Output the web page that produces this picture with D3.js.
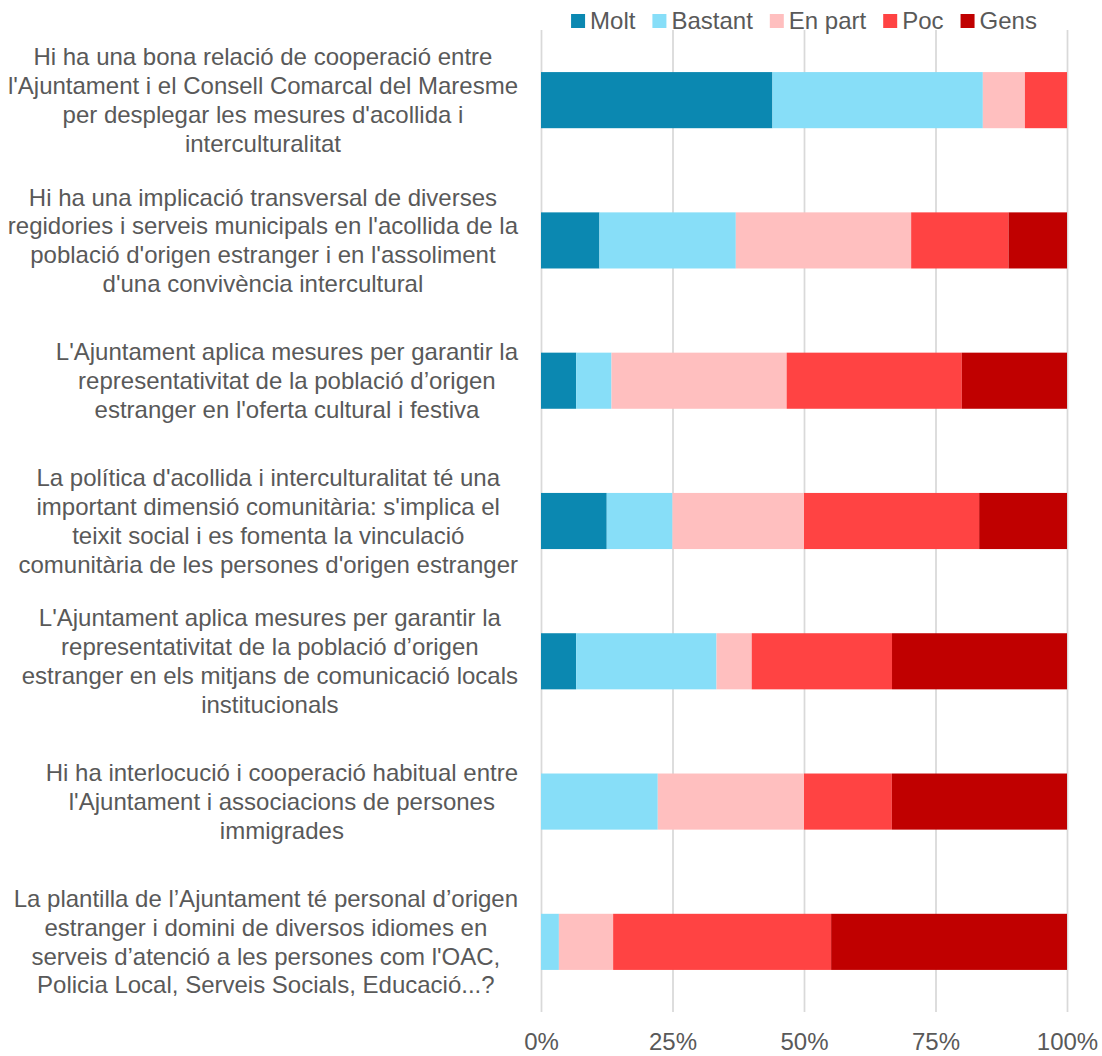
<!DOCTYPE html>
<html>
<head>
<meta charset="utf-8">
<script src="https://cdn.jsdelivr.net/npm/d3@7"></script>
<style>
  html, body { margin: 0; padding: 0; background: #fff; }
  svg { display: block; }
  text { font-family: "Liberation Sans", Arial, sans-serif; fill: #595959; }
</style>
</head>
<body>
<svg id="chart" width="1102" height="1056"></svg>
<script>
// ---- Data ----
const categories = [
  ["Hi ha una bona relació de cooperació entre", "l'Ajuntament i el Consell Comarcal del Maresme", "per desplegar les mesures d'acollida i", "interculturalitat"],
  ["Hi ha una implicació transversal de diverses", "regidories i serveis municipals en l'acollida de la", "població d'origen estranger i en l'assoliment", "d'una convivència intercultural"],
  ["L'Ajuntament aplica mesures per garantir la", "representativitat de la població d’origen", "estranger en l'oferta cultural i festiva"],
  ["La política d'acollida i interculturalitat té una", "important dimensió comunitària: s'implica el", "teixit social i es fomenta la vinculació", "comunitària de les persones d'origen estranger"],
  ["L'Ajuntament aplica mesures per garantir la", "representativitat de la població d’origen", "estranger en els mitjans de comunicació locals", "institucionals"],
  ["Hi ha interlocució i cooperació habitual entre", "l'Ajuntament i associacions de persones", "immigrades"],
  ["La plantilla de l’Ajuntament té personal d’origen", "estranger i domini de diversos idiomes en", "serveis d’atenció a les persones com l'OAC,", "Policia Local, Serveis Socials, Educació...?"]
];
const seriesNames = ["Molt", "Bastant", "En part", "Poc", "Gens"];
const molt    = [44.0, 11.1,  6.7, 12.5,  6.7,  0.0,  0.0];
const bastant = [40.0, 25.9,  6.7, 12.5, 26.7, 22.2,  3.4];
const enPart  = [ 8.0, 33.3, 33.3, 25.0,  6.7, 27.8, 10.3];
const poc     = [ 8.0, 18.5, 33.3, 33.3, 26.7, 16.7, 41.4];
const gens    = [ 0.0, 11.1, 20.0, 16.7, 33.3, 33.3, 44.8];
const tickValues = [0, 0.25, 0.5, 0.75, 1];
const seriesColors = ["#0B88B1", "#87DEF8", "#FFBFBF", "#FF4343", "#C00000"];

// ---- Build table ----
const seriesValues = [molt, bastant, enPart, poc, gens];
const rows = categories.map((c, i) => {
  const r = { idx: i };
  seriesNames.forEach((s, j) => r[s] = seriesValues[j][i]);
  return r;
});

const svg = d3.select("#chart");
const plotLeft = 541, plotRight = 1067, plotTop = 30, plotBottom = 1012;

const x = d3.scaleLinear().domain([0, 1]).range([plotLeft, plotRight]);
const y = d3.scaleBand().domain(d3.range(categories.length))
  .range([plotTop, plotBottom]).paddingInner(0.6).paddingOuter(0.3);
const color = d3.scaleOrdinal().domain(seriesNames).range(seriesColors);

// gridlines + ticks
const axis = d3.axisBottom(x).tickValues(tickValues)
  .tickSize(-(plotBottom - plotTop)).tickFormat(d3.format(".0%"));
const gAxis = svg.append("g").attr("transform", `translate(0,${plotBottom})`).call(axis);
gAxis.select(".domain").remove();
gAxis.selectAll(".tick line").attr("stroke", "#D9D9D9").attr("stroke-width", 1.75);
gAxis.selectAll(".tick text").attr("y", 38).attr("dy", 0)
  .attr("font-size", 24).attr("fill", "#595959")
  .style("font-family", '"Liberation Sans", Arial, sans-serif');

// stacked bars
const stack = d3.stack().keys(seriesNames).offset(d3.stackOffsetExpand);
const stacked = stack(rows);
svg.append("g").selectAll("g").data(stacked).join("g")
  .attr("fill", d => color(d.key))
  .selectAll("rect").data(d => d).join("rect")
  .attr("x", d => x(d[0]))
  .attr("width", d => Math.max(0, x(d[1]) - x(d[0])))
  .attr("y", d => y(d.data.idx))
  .attr("height", y.bandwidth());

// category labels
const labelRight = 518, lineH = 28.8;
const gLab = svg.append("g");
categories.forEach((lines, i) => {
  const g = gLab.append("g");
  const cy = y(i) + y.bandwidth() / 2;
  const texts = lines.map((ln, k) => g.append("text")
    .attr("font-size", 24)
    .attr("text-anchor", "middle")
    .attr("y", cy + (k - (lines.length - 1) / 2) * lineH)
    .attr("dy", "0.35em")
    .text(ln));
  const widths = texts.map(t => t.node().getComputedTextLength());
  const maxW = d3.max(widths);
  const cx = labelRight - maxW / 2;
  texts.forEach(t => t.attr("x", cx));
});

// legend
const legend = svg.append("g");
let lx = 0;
seriesNames.forEach(name => {
  const g = legend.append("g");
  g.append("rect").attr("width", 14).attr("height", 14).attr("y", 14).attr("fill", color(name));
  const t = g.append("text").attr("x", 19).attr("y", 29).attr("font-size", 24).text(name);
  const w = 19 + t.node().getComputedTextLength();
  g.attr("transform", `translate(${lx},0)`);
  lx += w + 17;
});
const totalW = lx - 17;
legend.attr("transform", `translate(${(plotLeft + plotRight) / 2 - totalW / 2},0)`);
</script>
</body>
</html>
